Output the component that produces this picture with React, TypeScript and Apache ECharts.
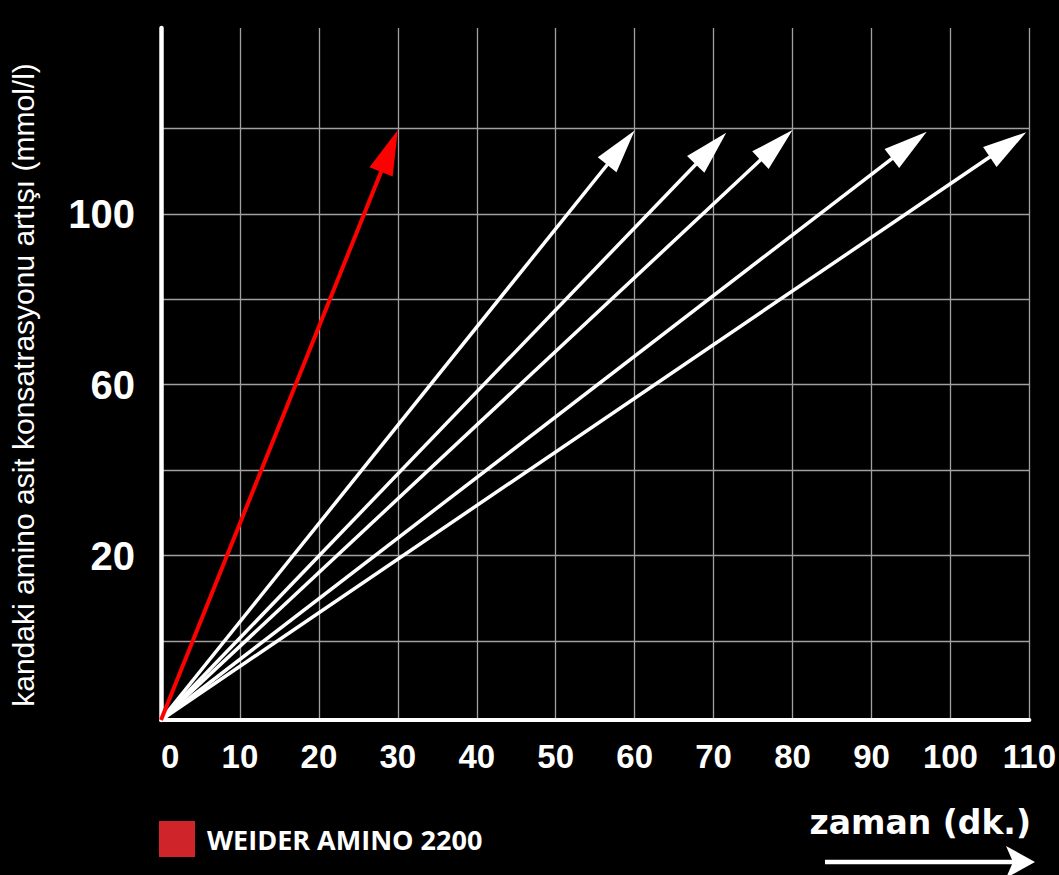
import React, { useEffect, useRef } from "react";
import * as echarts from "echarts";

// ---- data ----
const xTicks = [0, 10, 20, 30, 40, 50, 60, 70, 80, 90, 100, 110];
const yGridValues = [0, 20, 40, 60, 80, 100, 120];
const yLabelValues = [20, 60, 100];
const Y_MIN = -18.5;
const Y_MAX = 143.5;

const highlightName = "WEIDER AMINO 2200";
const highlightEnd = [30, 119.6]; // [minutes, mmol/l]

const otherEndX = [60, 71.6, 80, 97, 109.6];
const otherEndY = [119.5, 119.0, 119.6, 119.2, 119.1];

const startX = 0;
const startY = Y_MIN;

const yTitle = "kandaki amino asit konsatrasyonu artışı (mmol/l)";
const xTitle = "zaman (dk.)";

function arrowRenderer(color: string, lw: number, headLen: number, headW: number) {
  return (params: any, api: any) => {
    const p0 = api.coord([api.value(0), api.value(1)]);
    const p1 = api.coord([api.value(2), api.value(3)]);
    const dx = p1[0] - p0[0];
    const dy = p1[1] - p0[1];
    const len = Math.hypot(dx, dy) || 1;
    const ux = dx / len;
    const uy = dy / len;
    const bx = p1[0] - ux * headLen;
    const by = p1[1] - uy * headLen;
    const nx = -uy;
    const ny = ux;
    const hw = headW / 2;
    return {
      type: "group",
      children: [
        {
          type: "line",
          shape: { x1: p0[0], y1: p0[1], x2: bx + ux * 3, y2: by + uy * 3 },
          style: { stroke: color, lineWidth: lw, lineCap: "butt" },
        },
        {
          type: "polygon",
          shape: {
            points: [
              [p1[0], p1[1]],
              [bx + nx * hw, by + ny * hw],
              [bx - nx * hw, by - ny * hw],
            ],
          },
          style: { fill: color },
        },
      ],
    };
  };
}

export default function App() {
  const ref = useRef<HTMLDivElement>(null);

  useEffect(() => {
    if (!ref.current) return;
    const chart = echarts.init(ref.current, null, { renderer: "svg" });

    const redData = [[startX, startY, highlightEnd[0], highlightEnd[1]]];
    const whiteData = otherEndX.map((x, i) => [startX, startY, x, otherEndY[i]]);

    const option: any = {
      animation: false,
      backgroundColor: "#000000",
      grid: { left: 161, right: 22, top: 28, bottom: 155, containLabel: false },
      xAxis: {
        type: "value",
        min: xTicks[0],
        max: xTicks[xTicks.length - 1],
        interval: 10,
        axisLine: { show: true, onZero: false, lineStyle: { color: "#ffffff", width: 4 } },
        axisTick: { show: false },
        splitLine: { show: true, lineStyle: { color: "#a0a0a0", width: 1.3 } },
        axisLabel: {
          color: "#ffffff",
          fontFamily: "Liberation Sans",
          fontWeight: "bold",
          fontSize: 33,
          margin: 20,
          alignMinLabel: "left",
        },
      },
      yAxis: {
        type: "value",
        min: Y_MIN,
        max: Y_MAX,
        axisLine: { show: true, onZero: false, lineStyle: { color: "#ffffff", width: 4.5 } },
        axisTick: { show: false, customValues: yGridValues },
        splitLine: { show: true, lineStyle: { color: "#a0a0a0", width: 1.3 } },
        axisLabel: {
          customValues: yLabelValues,
          color: "#ffffff",
          fontFamily: "Liberation Sans",
          fontWeight: "bold",
          fontSize: 40,
          margin: 26,
        },
      },
      legend: {
        data: [{ name: highlightName, icon: "rect", itemStyle: { color: "#d0242b" } }],
        left: 159,
        top: 821,
        padding: 0,
        itemWidth: 36,
        itemHeight: 36,
        selectedMode: false,
        textStyle: {
          color: "#ffffff",
          fontFamily: "Open Sans",
          fontWeight: "bold",
          fontSize: 27,
          padding: [0, 0, 0, 7],
        },
      },
      graphic: [
        {
          type: "text",
          x: 23,
          y: 385,
          rotation: Math.PI / 2,
          style: {
            text: yTitle,
            fill: "#ffffff",
            fontFamily: "Liberation Sans",
            fontSize: 30,
            textAlign: "center",
            textVerticalAlign: "middle",
          },
        },
        {
          type: "text",
          x: 1031,
          y: 822,
          style: {
            text: xTitle,
            fill: "#ffffff",
            fontFamily: "DejaVu Sans",
            fontWeight: "bold",
            fontSize: 33,
            textAlign: "right",
            textVerticalAlign: "middle",
          },
        },
        {
          type: "line",
          shape: { x1: 825, y1: 862, x2: 1015, y2: 862 },
          style: { stroke: "#ffffff", lineWidth: 4.5 },
        },
        {
          type: "polygon",
          shape: { points: [[1035, 862], [1006, 846], [1013, 862], [1006, 878]] },
          style: { fill: "#ffffff" },
        },
      ],
      series: [
        {
          name: highlightName,
          type: "custom",
          renderItem: arrowRenderer("#ff0000", 4, 45, 25),
          encode: { x: [0, 2], y: [1, 3] },
          data: redData,
          z: 5,
          itemStyle: { color: "#d0242b" },
        },
        {
          name: "diğer",
          type: "custom",
          renderItem: arrowRenderer("#ffffff", 3.5, 44, 24),
          encode: { x: [0, 2], y: [1, 3] },
          data: whiteData,
          z: 4,
          itemStyle: { color: "#ffffff" },
        },
      ],
    };

    chart.setOption(option);
    return () => chart.dispose();
  }, []);

  return (
    <div
      ref={ref}
      style={{ position: "fixed", left: 0, top: 0, width: 1059, height: 875, background: "#000" }}
    />
  );
}
